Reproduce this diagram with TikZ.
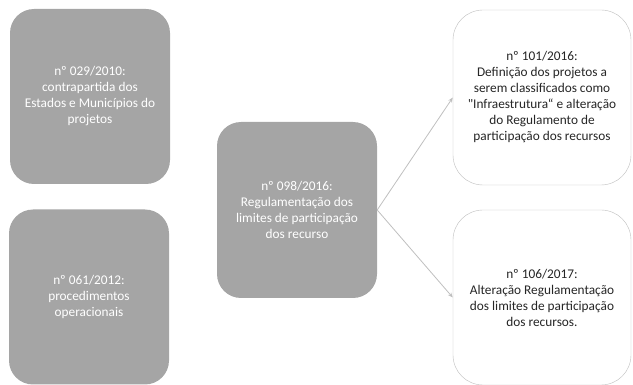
\documentclass[tikz,border=0pt]{standalone}
\usepackage{fontspec}
\setmainfont{Carlito}
\usetikzlibrary{arrows.meta}
\definecolor{boxgray}{HTML}{A5A5A5}
\definecolor{linegray}{HTML}{BFBFBF}
\newcommand{\aspas}{{\addfontfeature{Ligatures=TeXOff}"}}
\tikzset{
	normabox/.style={fill=boxgray, rounded corners=24pt, text=white, align=center,
		minimum width=160pt, minimum height=175pt, inner sep=0pt,
		font=\fontsize{13.3}{16}\selectfont},
	novabox/.style={normabox, fill=white, draw=linegray, text=black!85,
		rounded corners=30pt, minimum width=178pt},
	seta/.style={draw=linegray, line width=0.8pt, -{Stealth[length=5pt,width=4pt]}}
}
\begin{document}
\begin{tikzpicture}[x=1pt,y=-1pt]
\useasboundingbox (0,0) rectangle (633,385);
\node[normabox] (n029) at (90,96.5) {nº 029/2010:\\contrapartida dos\\Estados e Municípios do\\projetos};
\node[normabox] (n061) at (89,297) {nº 061/2012:\\procedimentos\\operacionais};
\node[normabox, minimum height=176pt] (n098) at (297,210) {nº 098/2016:\\Regulamentação dos\\limites de participação\\dos recurso};
\node[novabox] (n101) at (542,97.5) {nº 101/2016:\\Definição dos projetos a\\serem classificados como\\\aspas Infraestrutura“ e alteração\\do Regulamento de\\participação dos recursos};
\node[novabox] (n106) at (542,297.5) {nº 106/2017:\\Alteração Regulamentação\\dos limites de participação\\dos recursos.};
\draw[seta] (n098.east) -- (n101.west);
\draw[seta] (n098.east) -- (n106.west);
\end{tikzpicture}
\end{document}
